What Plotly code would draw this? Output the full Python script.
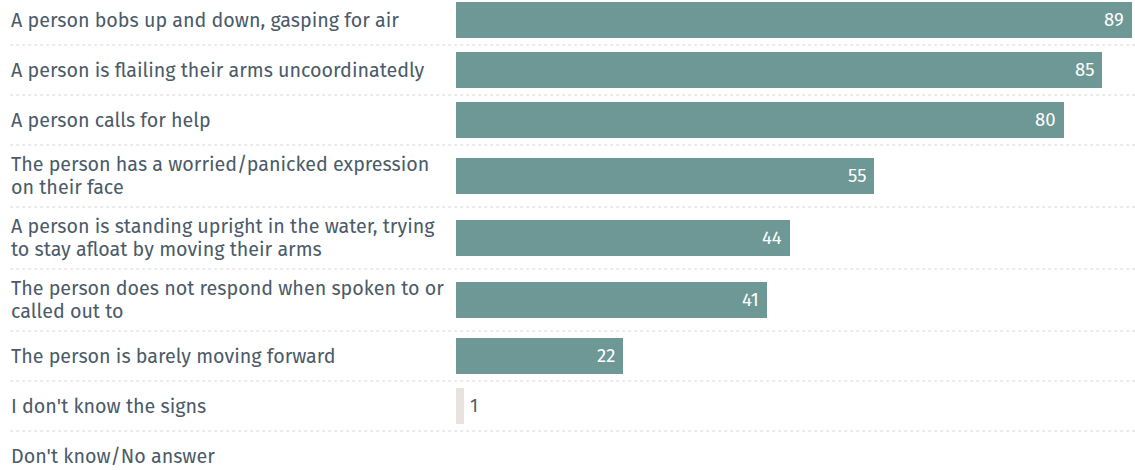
import plotly.graph_objects as go

# Survey answers: which signs indicate that someone is drowning (%)
labels = [
    "A person bobs up and down, gasping for air",
    "A person is flailing their arms uncoordinatedly",
    "A person calls for help",
    "The person has a worried/panicked expression\non their face",
    "A person is standing upright in the water, trying\nto stay afloat by moving their arms",
    "The person does not respond when spoken to or\ncalled out to",
    "The person is barely moving forward",
    "I don't know the signs",
    "Don't know/No answer",
]
values = [89, 85, 80, 55, 44, 41, 22, 1, None]
highlight = [True, True, True, True, True, True, True, False, False]

MAIN = "#6e9896"
MUTED = "#e8e3df"
TEXT = "#4b5b69"
FONT = "Fira Sans, Noto Sans, sans-serif"
LABEL_SIZE = 19.7
VALUE_SIZE = 18.5
LINE_PX = 23.3

W, H = 1135, 470
ROW_1LINE, ROW_2LINE = 50, 62
BAR_PX = 36
TOP_OFFSET = 5
X_MAX = 89.4

# Row layout: two-line labels get taller rows
heights = [ROW_2LINE if "\n" in s else ROW_1LINE for s in labels]
tops, acc = [], 0
for h in heights:
    tops.append(acc)
    acc += h
centers = [t + h / 2 for t, h in zip(tops, heights)]

fig = go.Figure()
fig.add_trace(go.Bar(
    x=values,
    y=centers,
    orientation="h",
    width=BAR_PX,
    marker=dict(color=[MAIN if h else MUTED for h in highlight], line=dict(width=0)),
    hoverinfo="skip",
    showlegend=False,
))

annotations = []
# Category labels, one annotation per text line for tight line spacing
for lab, c in zip(labels, centers):
    lines = lab.split("\n")
    n = len(lines)
    for i, line in enumerate(lines):
        annotations.append(dict(
            x=0, xref="paper", xanchor="left", xshift=9,
            y=c, yref="y", yanchor="middle",
            yshift=-(i - (n - 1) / 2) * LINE_PX,
            text=line, showarrow=False, align="left",
            font=dict(family=FONT, size=LABEL_SIZE, color=TEXT),
        ))

# Value labels: inside the bar end, or just outside for the muted bar
for v, c, h in zip(values, centers, highlight):
    if v is None:
        continue
    if h:
        annotations.append(dict(
            x=v, xref="x", xanchor="right", xshift=-6,
            y=c, yref="y", yanchor="middle", text=str(v), showarrow=False,
            font=dict(family=FONT, size=VALUE_SIZE, color="white"),
        ))
    else:
        annotations.append(dict(
            x=v, xref="x", xanchor="left", xshift=4,
            y=c, yref="y", yanchor="middle", text=str(v), showarrow=False,
            font=dict(family=FONT, size=VALUE_SIZE, color=TEXT),
        ))

# Dotted separators between rows
shapes = []
for t, h in zip(tops[:-1], heights[:-1]):
    shapes.append(dict(
        type="line", xref="paper", yref="y", x0=0.009, x1=1,
        y0=t + h, y1=t + h,
        line=dict(color="#d6d6d6", width=1, dash="dot"),
    ))

fig.update_layout(
    width=W, height=H,
    margin=dict(l=0, r=0, t=0, b=0),
    paper_bgcolor="white", plot_bgcolor="white",
    bargap=0,
    xaxis=dict(domain=[456 / W, 1], range=[0, X_MAX], visible=False, fixedrange=True),
    yaxis=dict(range=[H + TOP_OFFSET, TOP_OFFSET], visible=False, fixedrange=True),
    annotations=annotations,
    shapes=shapes,
)

fig.write_html("out.html")
